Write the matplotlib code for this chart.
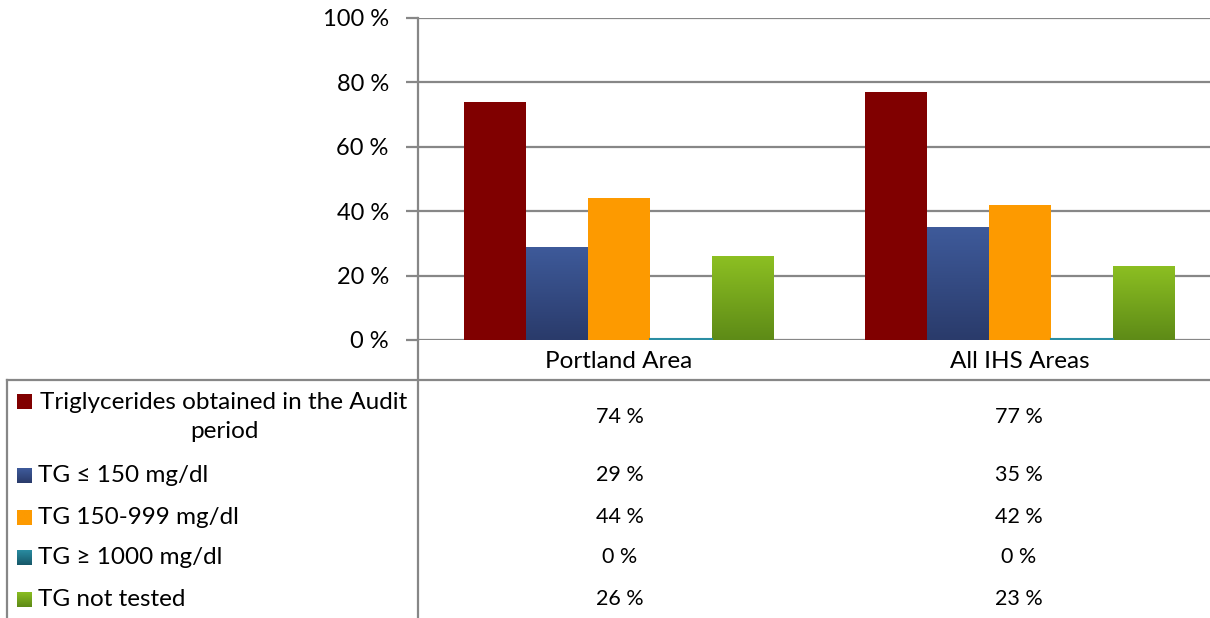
import matplotlib as mpl
import matplotlib.pyplot as plt
import numpy as np
from matplotlib.lines import Line2D

plt.rcParams['font.family'] = ['Lato', 'DejaVu Sans']

categories = ['Portland Area', 'All IHS Areas']
series = ['Triglycerides obtained in the Audit\nperiod', 'TG \u2264 150 mg/dl',
          'TG 150-999 mg/dl', 'TG \u2265 1000 mg/dl', 'TG not tested']
values = [[74, 77], [29, 35], [44, 42], [0, 0], [26, 23]]
yticks = [0, 20, 40, 60, 80, 100]

# top/bottom colours per series (same = flat fill)
colors = [('#800000', '#800000'), ('#3e5a9a', '#2a3b6b'), ('#fd9a00', '#fd9a00'),
          ('#2a8ea3', '#17596a'), ('#8cbf22', '#5e8b17')]

W, H = 1210, 618
def fx(px): return px / W
def fy(py): return 1 - py / H

grey = '#878787'
fig = plt.figure(figsize=(W / 100, H / 100), dpi=100)
ax = fig.add_axes([fx(418), fy(340), 802 / W, 322 / H])

x = np.arange(len(categories))
bw = 62 / 401
for i, (vals, (ctop, cbot)) in enumerate(zip(values, colors)):
    xs = x + (i - 2) * bw
    bars = ax.bar(xs, vals, width=bw, color=ctop, zorder=3, lw=0)
    if ctop != cbot:
        cmap = mpl.colors.LinearSegmentedColormap.from_list('g', [cbot, ctop])
        for b in bars:
            h = b.get_height()
            if h <= 0:
                continue
            b.set_facecolor('none')
            im = ax.imshow(np.linspace(0, 1, 64).reshape(-1, 1), cmap=cmap, origin='lower',
                           extent=[b.get_x(), b.get_x() + b.get_width(), 0, h],
                           aspect='auto', zorder=3)
            im.set_clip_path(b)
    # zero bars show as thin line
    for xv, v in zip(xs, vals):
        if v == 0:
            ax.plot([xv - bw / 2, xv + bw / 2], [0.3, 0.3], color=ctop, lw=1.5, zorder=4)

ax.set_xlim(-0.5, 1.5)
ax.set_ylim(0, 100)
ax.set_yticks(yticks)
ax.set_yticklabels([f'{v} %' for v in yticks])
ax.yaxis.grid(True, color=grey, lw=1.6)
ax.set_axisbelow(True)
for s in ['top', 'right', 'bottom']:
    ax.spines[s].set_visible(False)
ax.spines['left'].set_color(grey)
ax.spines['left'].set_linewidth(1.6)
ax.tick_params(axis='y', length=9, width=1.6, color=grey, pad=12, labelsize=17)
ax.set_xticks(x)
ax.set_xticklabels(categories)
ax.tick_params(axis='x', length=0, pad=8, labelsize=17.5)

# table lines
fig.add_artist(Line2D([fx(418), fx(418)], [fy(340), 0], color=grey, lw=1.6))
fig.add_artist(Line2D([fx(7), 1], [fy(380), fy(380)], color=grey, lw=1.6))
fig.add_artist(Line2D([fx(7), fx(7)], [fy(380), 0], color=grey, lw=1.6))

row_y = [417, 475, 517, 557, 599]
col_x = [620, 1019]
for i, (name, vals, (ctop, cbot)) in enumerate(zip(series, values, colors)):
    yy = row_y[i]
    if i == 0:
        fig.text(fx(224), fy(yy), name, ha='center', va='center', fontsize=17.5,
                 linespacing=1.45)
        ky = 401
    else:
        fig.text(fx(38), fy(yy), name, ha='left', va='center', fontsize=17.5)
        ky = yy
    kax = fig.add_axes([fx(17), fy(ky + 8), 15 / W, 15 / H])
    kcmap = mpl.colors.LinearSegmentedColormap.from_list('k', [cbot, ctop])
    kax.imshow(np.linspace(0, 1, 16).reshape(-1, 1), cmap=kcmap, origin='lower',
               aspect='auto')
    kax.axis('off')
    for cx, v in zip(col_x, vals):
        fig.text(fx(cx), fy(yy), f'{v} %', ha='center', va='center', fontsize=15.5)

fig.savefig('out.png', dpi=100)
